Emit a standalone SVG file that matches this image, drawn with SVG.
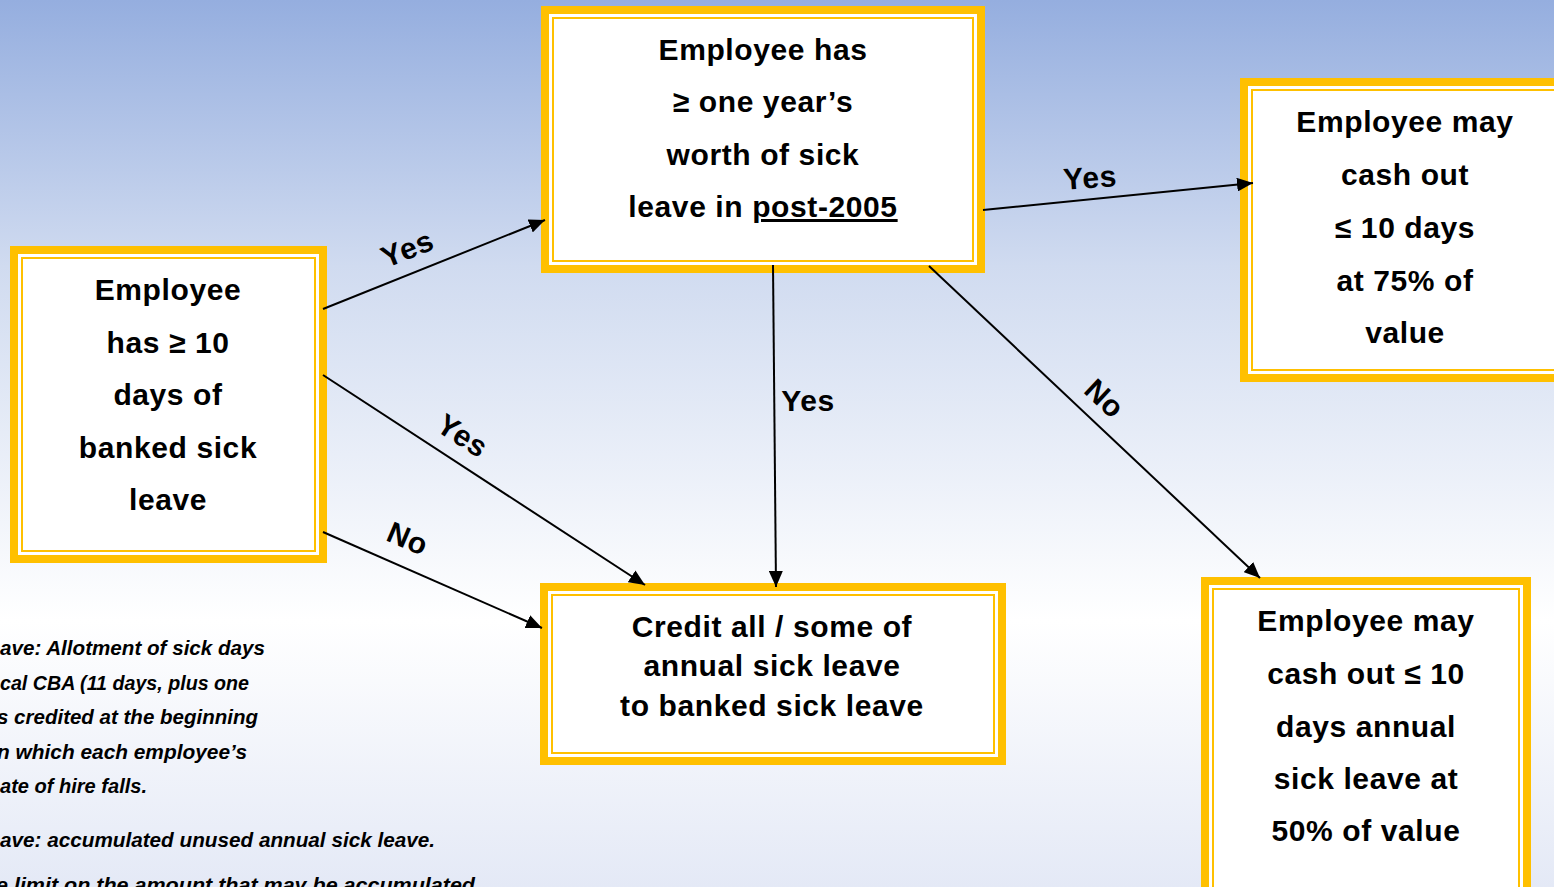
<svg xmlns="http://www.w3.org/2000/svg" width="1554" height="887" viewBox="0 0 1554 887">
<defs>
<linearGradient id="bg" x1="0" y1="0" x2="0" y2="1">
<stop offset="0" stop-color="#95AEDF"/>
<stop offset="0.3" stop-color="#D0DBF0"/>
<stop offset="0.7" stop-color="#FFFFFF"/>
<stop offset="1" stop-color="#E4E9F6"/>
</linearGradient>
<marker id="ah" viewBox="0 0 16 14" markerWidth="16" markerHeight="14" refX="16" refY="7" orient="auto" markerUnits="userSpaceOnUse">
<path d="M0,0 L16,7 L0,14 z" fill="#000"/>
</marker>
</defs>
<style>
.outer{fill:#FFC000}
.gap{fill:#FFFFFF}
.inner{fill:#FFFFFF;stroke:#FFC000;stroke-width:2}
.t{font-family:"Liberation Sans",Arial,sans-serif;font-weight:bold;font-size:30px;letter-spacing:0.6px;fill:#000;text-anchor:middle}
.lbl{font-family:"Liberation Sans",Arial,sans-serif;font-weight:bold;font-size:30px;letter-spacing:0.6px;fill:#000;text-anchor:middle}
.note{font-family:"Liberation Sans",Arial,sans-serif;font-weight:bold;font-style:italic;font-size:21px;fill:#000}
.c{stroke:#000;stroke-width:2;fill:none;marker-end:url(#ah)}
</style>
<rect x="0" y="0" width="1554" height="887" fill="url(#bg)"/>

<g id="notes">
<text class="note" x="0" y="655" textLength="265" lengthAdjust="spacingAndGlyphs">ave:  Allotment of sick days</text>
<text class="note" x="0" y="690" textLength="249" lengthAdjust="spacingAndGlyphs">cal CBA (11 days, plus one</text>
<text class="note" x="-3" y="724" textLength="261" lengthAdjust="spacingAndGlyphs">s credited at the beginning</text>
<text class="note" x="-3" y="759" textLength="250" lengthAdjust="spacingAndGlyphs">n which each employee’s</text>
<text class="note" x="0" y="793" textLength="147" lengthAdjust="spacingAndGlyphs">ate of hire falls.</text>
<text class="note" x="0" y="847" textLength="435" lengthAdjust="spacingAndGlyphs">ave:  accumulated unused annual sick leave.</text>
<text class="note" x="-4" y="892" textLength="479" lengthAdjust="spacingAndGlyphs">e limit on the amount that may be accumulated</text>
</g>

<g id="node-banked">
<rect class="outer" x="10" y="246" width="317" height="317"/>
<rect class="gap" x="18" y="254" width="301" height="301"/>
<rect class="inner" x="22" y="258" width="293" height="293"/>
<text class="t" x="168" y="300">Employee</text>
<text class="t" x="168" y="353">has ≥ 10</text>
<text class="t" x="168" y="405">days of</text>
<text class="t" x="168" y="458">banked sick</text>
<text class="t" x="168" y="510">leave</text>
</g>

<g id="node-oneyear">
<rect class="outer" x="541" y="6" width="444" height="267"/>
<rect class="gap" x="549" y="14" width="428" height="251"/>
<rect class="inner" x="553" y="18" width="420" height="243"/>
<text class="t" x="763" y="60">Employee has</text>
<text class="t" x="763" y="112">≥ one year’s</text>
<text class="t" x="763" y="165">worth of sick</text>
<text class="t" x="763" y="217">leave in <tspan text-decoration="underline">post-2005</tspan></text>
</g>

<g id="node-cash75">
<rect class="outer" x="1240" y="78" width="330" height="304"/>
<rect class="gap" x="1248" y="86" width="330" height="288"/>
<rect class="inner" x="1252" y="90" width="330" height="280"/>
<text class="t" x="1405" y="132">Employee may</text>
<text class="t" x="1405" y="185">cash out</text>
<text class="t" x="1405" y="238">≤ 10 days</text>
<text class="t" x="1405" y="291">at 75% of</text>
<text class="t" x="1405" y="343">value</text>
</g>

<g id="node-cash50">
<rect class="outer" x="1201" y="577" width="330" height="330"/>
<rect class="gap" x="1209" y="585" width="314" height="330"/>
<rect class="inner" x="1213" y="589" width="306" height="330"/>
<text class="t" x="1366" y="631">Employee may</text>
<text class="t" x="1366" y="684">cash out ≤ 10</text>
<text class="t" x="1366" y="737">days annual</text>
<text class="t" x="1366" y="789">sick leave at</text>
<text class="t" x="1366" y="841">50% of value</text>
</g>

<g id="node-credit">
<rect class="outer" x="540" y="583" width="466" height="182"/>
<rect class="gap" x="548" y="591" width="450" height="166"/>
<rect class="inner" x="552" y="595" width="442" height="158"/>
<text class="t" x="772" y="637">Credit all / some of</text>
<text class="t" x="772" y="676">annual sick leave</text>
<text class="t" x="772" y="716">to banked sick leave</text>
</g>

<g id="connectors">
<line class="c" x1="323" y1="309" x2="545" y2="220"/>
<line class="c" x1="323" y1="375" x2="645" y2="585"/>
<line class="c" x1="323" y1="532" x2="542" y2="628"/>
<line class="c" x1="773" y1="265" x2="776" y2="587"/>
<line class="c" x1="983" y1="210" x2="1253" y2="183"/>
<line class="c" x1="929" y1="266" x2="1260" y2="578"/>
<text class="lbl" transform="translate(407,248) rotate(-22)" x="0" y="11">Yes</text>
<text class="lbl" transform="translate(463,435) rotate(33)" x="0" y="11">Yes</text>
<text class="lbl" transform="translate(408,538) rotate(23)" x="0" y="11">No</text>
<text class="lbl" x="808" y="411">Yes</text>
<text class="lbl" transform="translate(1090,177) rotate(-4)" x="0" y="11">Yes</text>
<text class="lbl" transform="translate(1105,398) rotate(43)" x="0" y="11">No</text>
</g>
</svg>
